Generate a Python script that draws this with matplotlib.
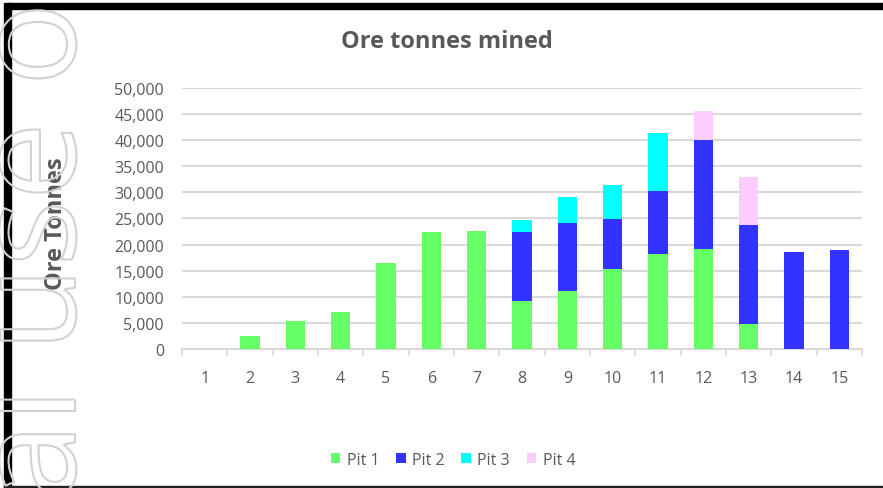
import matplotlib
matplotlib.use("Agg")
import matplotlib.pyplot as plt
import matplotlib.patheffects as pe
from matplotlib.patches import Rectangle
from matplotlib.ticker import FuncFormatter, MultipleLocator
import numpy as np

plt.rcParams["font.family"] = ["Open Sans", "DejaVu Sans"]

# data
periods = list(range(1, 16))
pit1 = [0, 2500, 5400, 7150, 16500, 22450, 22650, 9200, 11200, 15300, 18250, 19200, 4800, 0, 0]
pit2 = [0, 0, 0, 0, 0, 0, 0, 13150, 12850, 9700, 12000, 20850, 19050, 18600, 19000]
pit3 = [0, 0, 0, 0, 0, 0, 0, 2300, 5050, 6500, 11150, 0, 0, 0, 0]
pit4 = [0, 0, 0, 0, 0, 0, 0, 0, 0, 0, 0, 5450, 9150, 0, 0]

series = [("Pit 1", pit1, "#66FF66"), ("Pit 2", pit2, "#3333FF"),
          ("Pit 3", pit3, "#00FFFF"), ("Pit 4", pit4, "#FFCCFF")]

grey = "#595959"
W, H = 883, 489
fig = plt.figure(figsize=(W / 100, H / 100), dpi=100)
ax = fig.add_axes([182 / W, 1 - 350 / H, 680 / W, 261 / H])

x = np.arange(len(periods))
bottom = np.zeros(len(periods))
for name, vals, col in series:
    ax.bar(x, vals, width=0.42, bottom=bottom, color=col, label=name, zorder=3)
    bottom += np.array(vals)

ax.set_xlim(-0.5, len(periods) - 0.5)
ax.set_ylim(0, 50000)
ax.yaxis.set_major_locator(MultipleLocator(5000))
ax.yaxis.set_major_formatter(FuncFormatter(lambda v, p: f"{int(v):,}"))
ax.set_xticks(x)
ax.set_xticklabels([str(p) for p in periods])
ax.set_xticks(np.arange(-0.5, len(periods)), minor=True)
ax.tick_params(axis="x", which="major", length=0, pad=15, labelsize=11.5, colors=grey)
ax.tick_params(axis="x", which="minor", length=5, width=1.2, color="#d9d9d9")
ax.tick_params(axis="y", length=0, pad=13, labelsize=11.5, colors=grey)
ax.grid(axis="y", color="#d9d9d9", lw=1.5, zorder=0)
for s in ["top", "right", "left"]:
    ax.spines[s].set_visible(False)
ax.spines["bottom"].set_color("#d9d9d9")
ax.spines["bottom"].set_linewidth(1.5)

fig.text(447 / W, 1 - 42 / H, "Ore tonnes mined", ha="center", va="center",
         fontsize=17, fontweight="bold", color=grey)
fig.text(56 / W, 1 - 224 / H, "Ore Tonnes", ha="center", va="center", rotation=90,
         fontsize=17, fontweight="bold", color=grey)

ax.legend(loc="center", bbox_to_anchor=(453 / W, 1 - 461 / H), bbox_transform=fig.transFigure,
          ncol=4, frameon=False, fontsize=11.5, handlelength=0.6, handleheight=0.6,
          handletextpad=0.4, columnspacing=1.05, labelcolor=grey)

# frame lines around the screenshot
fig.patches.append(Rectangle((8 / W, 1 - 10 / H), 1, 6 / H, transform=fig.transFigure,
                             color="black", zorder=5))
fig.patches.append(Rectangle((4 / W, 0), 7 / W, 1 - 4 / H, transform=fig.transFigure,
                             color="black", zorder=5))
fig.patches.append(Rectangle((4 / W, 0), 1, 2 / H, transform=fig.transFigure,
                             color="#222222", zorder=5))

# watermark
fig.text(75 / W, 1 - 501 / H, "al use o", rotation=90, rotation_mode="anchor",
         ha="left", va="baseline", fontsize=100, color="none", family="Open Sans",
         zorder=10, path_effects=[pe.Stroke(linewidth=1.5, foreground="#d2d2d2")])

fig.savefig("out.png", dpi=100)
